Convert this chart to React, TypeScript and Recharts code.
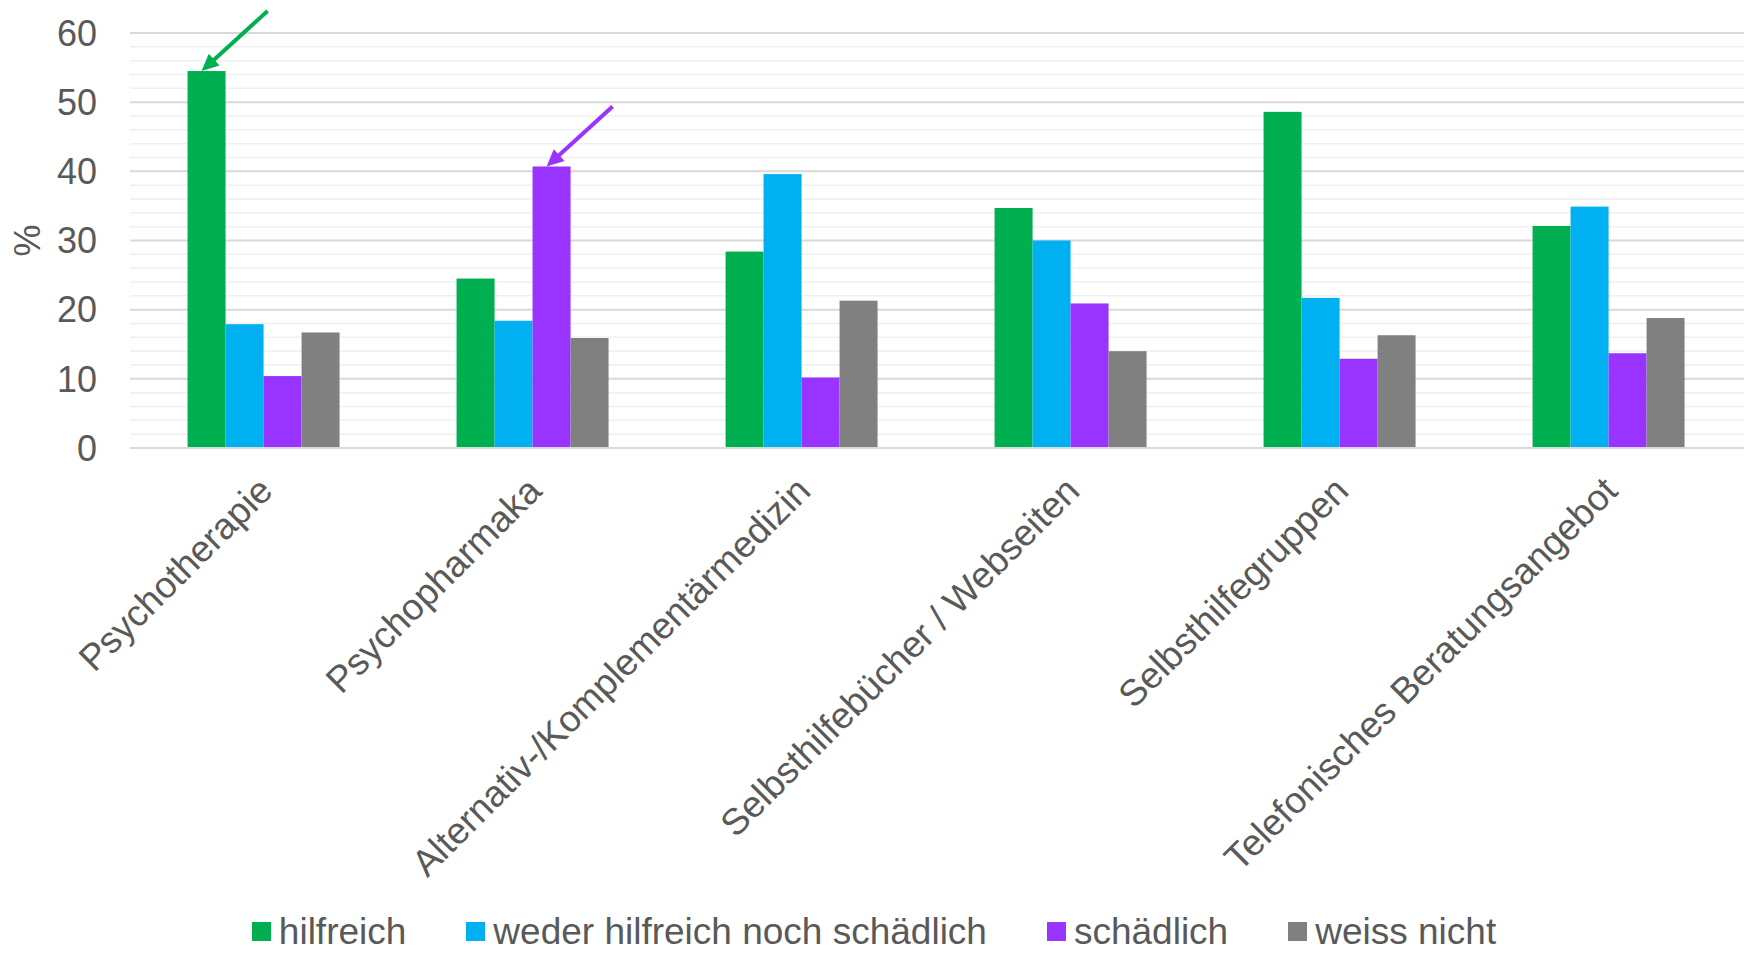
import { BarChart, Bar, XAxis, YAxis, CartesianGrid, Label } from 'recharts'

const CATEGORIES = [
  'Psychotherapie',
  'Psychopharmaka',
  'Alternativ-/Komplementärmedizin',
  'Selbsthilfebücher / Webseiten',
  'Selbsthilfegruppen',
  'Telefonisches Beratungsangebot',
]
const HILFREICH = [54.5, 24.5, 28.4, 34.7, 48.6, 32.1]
const WEDER_NOCH = [17.9, 18.4, 39.6, 30.0, 21.7, 34.9]
const SCHAEDLICH = [10.4, 40.7, 10.2, 20.9, 12.9, 13.7]
const WEISS_NICHT = [16.7, 15.9, 21.3, 14.0, 16.3, 18.8]

const SERIES_KEYS = ['hilfreich', 'weder', 'schaedlich', 'weiss']
const SERIES_NAMES = ['hilfreich', 'weder hilfreich noch schädlich', 'schädlich', 'weiss nicht']
const SERIES_COLORS = ['#00b050', '#00b0f0', '#9933ff', '#808080']

// every 2 % gets a grid line, every 10 % a label and a darker line
const Y_TICKS = [
  0, 2, 4, 6, 8, 10, 12, 14, 16, 18, 20, 22, 24, 26, 28, 30,
  32, 34, 36, 38, 40, 42, 44, 46, 48, 50, 52, 54, 56, 58, 60,
]
const MAJOR_EVERY = 10

// which bar gets an arrow pointing at it
const ARROW_TARGETS: Record<string, string> = {
  hilfreich: 'Psychotherapie',
  schaedlich: 'Psychopharmaka',
}

const FONT = '"Liberation Sans", Arial, sans-serif'
const TEXT = '#595959'

const data = CATEGORIES.map((name, i) => ({
  name,
  hilfreich: HILFREICH[i],
  weder: WEDER_NOCH[i],
  schaedlich: SCHAEDLICH[i],
  weiss: WEISS_NICHT[i],
}))

function CategoryTick({ x, y, payload }: any) {
  const ax = x + 10
  const ay = y + 45
  return (
    <text
      x={ax}
      y={ay}
      transform={`rotate(-45 ${ax} ${ay})`}
      textAnchor="end"
      fill={TEXT}
      fontSize={37}
      fontFamily={FONT}
    >
      {payload.value}
    </text>
  )
}

function GridLine(props: any) {
  const { x1, y1, x2, y2, index } = props
  const major = index % (MAJOR_EVERY / 2) === 0
  return (
    <line
      x1={x1}
      y1={y1}
      x2={x2}
      y2={y2}
      stroke={major ? '#d9d9d9' : '#efefef'}
      strokeWidth={major ? 2 : 1.5}
    />
  )
}

function barShape(key: string, color: string) {
  return (props: any) => {
    const { x, y, width, height, payload } = props
    const rect = <rect x={x} y={y} width={width} height={height} fill={color} />
    if (ARROW_TARGETS[key] !== payload?.name) return rect
    const tx = x + 14
    const ty = y
    const sx = tx + 66
    const sy = ty - 60
    const len = Math.hypot(sx - tx, sy - ty)
    const ux = (tx - sx) / len
    const uy = (ty - sy) / len
    const hl = 17
    const hw = 8
    const bx = tx - ux * hl
    const by = ty - uy * hl
    return (
      <g>
        {rect}
        <line x1={sx} y1={sy} x2={bx + ux * 2} y2={by + uy * 2} stroke={color} strokeWidth={4} />
        <polygon
          points={`${tx},${ty} ${bx - uy * hw},${by + ux * hw} ${bx + uy * hw},${by - ux * hw}`}
          fill={color}
        />
      </g>
    )
  }
}

export default function App() {
  return (
    <div style={{ position: 'absolute', left: 0, top: 0, width: 1748, height: 953, background: '#fff' }}>
      <BarChart
        width={1748}
        height={953}
        data={data}
        margin={{ top: 33, right: 4, left: 0, bottom: 0 }}
        barCategoryGap="21.4%"
        barGap={0}
      >
        <CartesianGrid vertical={false} horizontal={(p: any) => <GridLine key={p.key} {...p} />} />
        <XAxis
          dataKey="name"
          height={505}
          interval={0}
          tickLine={false}
          tickSize={0}
          tickMargin={0}
          axisLine={{ stroke: '#d9d9d9', strokeWidth: 2 }}
          tick={<CategoryTick />}
        />
        <YAxis
          domain={[0, 60]}
          ticks={Y_TICKS}
          interval={0}
          width={130}
          axisLine={false}
          tickLine={false}
          tickSize={0}
          tickMargin={33}
          tickFormatter={(v: number) => (v % MAJOR_EVERY === 0 ? String(v) : '')}
          tick={{ fill: TEXT, fontSize: 36, fontFamily: FONT }}
        >
          <Label
            content={({ viewBox }: any) => {
              const cx = 27
              const cy = viewBox.y + viewBox.height / 2
              return (
                <text
                  x={cx}
                  y={cy}
                  transform={`rotate(-90 ${cx} ${cy})`}
                  textAnchor="middle"
                  dominantBaseline="central"
                  fill={TEXT}
                  fontSize={36}
                  fontFamily={FONT}
                >
                  %
                </text>
              )
            }}
          />
        </YAxis>
        {SERIES_KEYS.map((key, i) => (
          <Bar
            key={key}
            dataKey={key}
            name={SERIES_NAMES[i]}
            fill={SERIES_COLORS[i]}
            isAnimationActive={false}
            shape={barShape(key, SERIES_COLORS[i])}
          />
        ))}
      </BarChart>
      <div
        style={{
          position: 'absolute',
          top: 915,
          left: 0,
          width: 1748,
          height: 33,
          display: 'flex',
          justifyContent: 'center',
          alignItems: 'center',
          gap: 60,
          fontFamily: FONT,
          fontSize: 37,
          color: TEXT,
        }}
      >
        {SERIES_NAMES.map((name, i) => (
          <div key={name} style={{ display: 'flex', alignItems: 'center', gap: 8, height: 33 }}>
            <span style={{ width: 19, height: 19, background: SERIES_COLORS[i], display: 'inline-block' }} />
            <span style={{ lineHeight: '33px', whiteSpace: 'nowrap' }}>{name}</span>
          </div>
        ))}
      </div>
    </div>
  )
}
